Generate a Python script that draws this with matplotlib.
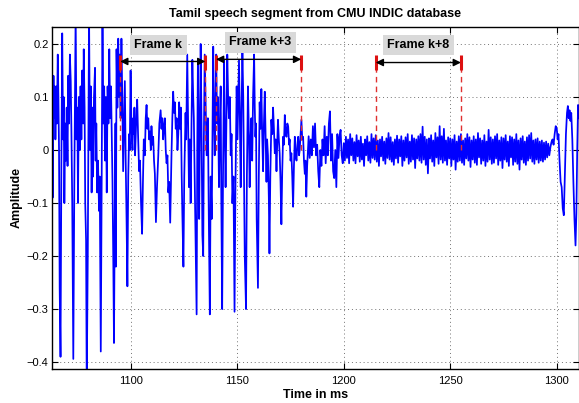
import numpy as np
import matplotlib
matplotlib.use("Agg")
import matplotlib.pyplot as plt

plt.rcParams['font.family'] = ['Liberation Sans', 'DejaVu Sans']

# ---- waveform, voiced part: (time in ms, amplitude) ----
voiced = [
    (1063.0, 0.07), (1063.3, -0.09), (1063.7, 0.14), (1064.0, 0.06), (1064.3, 0.12), (1064.6, 0.02),
    (1065.0, 0.12), (1065.3, 0.05), (1065.7, 0.18), (1066.0, 0.10), (1066.3, 0.0), (1066.6, -0.26),
    (1067.0, -0.39),
    (1067.4, -0.03), (1067.8, 0.22), (1068.2, 0.02), (1068.5, 0.10), (1068.8, -0.10), (1069.2, 0.05),
    (1069.5, -0.02), (1069.9, 0.08), (1070.3, -0.03), (1070.6, 0.14), (1071.0, 0.05), (1071.4, 0.18),
    (1071.8, 0.13), (1072.1, 0.04), (1072.5, -0.10), (1073.0, -0.394),
    (1073.5, -0.05), (1074.1, 0.26), (1074.5, 0.02), (1074.9, 0.08), (1075.2, -0.10), (1075.6, 0.10),
    (1076.0, 0.0), (1076.4, 0.12), (1076.8, 0.02), (1077.2, 0.15), (1077.6, 0.05), (1077.9, 0.19),
    (1078.3, 0.08), (1078.6, -0.10), (1079.0, -0.17), (1079.3, -0.45),
    (1079.8, -0.20), (1080.4, 0.26), (1080.8, 0.00), (1081.2, 0.12), (1081.6, -0.08), (1082.0, 0.08),
    (1082.3, -0.05), (1082.7, 0.10), (1083.2, 0.155), (1083.5, -0.02), (1083.8, 0.05), (1084.2, -0.08),
    (1084.6, -0.02), (1085.1, -0.115), (1085.4, -0.05), (1085.9, -0.38),
    (1086.3, -0.08), (1086.7, 0.26), (1087.1, 0.05), (1087.5, 0.12), (1087.9, -0.02), (1088.3, 0.10),
    (1088.7, -0.08), (1089.1, 0.12), (1089.5, 0.05), (1089.9, 0.19), (1090.3, 0.06), (1090.7, 0.12),
    (1091.1, 0.02), (1091.4, -0.06), (1091.8, -0.22), (1092.1, -0.364),
    (1092.5, -0.10), (1092.8, 0.05), (1093.0, -0.22), (1093.3, 0.19), (1093.7, 0.08), (1094.1, 0.21),
    (1094.5, 0.10), (1094.8, 0.18), (1095.2, 0.06), (1095.6, 0.21), (1096.0, 0.10), (1096.4, -0.04),
    (1096.8, 0.05), (1097.2, 0.13), (1097.6, -0.02), (1098.0, -0.13), (1098.4, -0.257),
    (1098.8, -0.05), (1099.2, 0.03), (1099.5, 0.0), (1099.9, 0.15), (1100.3, 0.04), (1100.8, 0.0),
    (1101.1, 0.06), (1101.4, 0.03), (1101.7, 0.08), (1102.0, -0.01), (1102.5, 0.05), (1103.0, 0.095),
    (1103.4, 0.03), (1103.9, -0.04), (1104.3, -0.02), (1104.8, -0.10), (1105.3, -0.158),
    (1105.7, -0.06), (1106.1, 0.02), (1106.6, -0.01), (1107.0, 0.06), (1107.4, 0.085), (1107.8, 0.04),
    (1108.2, 0.06), (1108.6, 0.02), (1109.0, 0.035), (1109.4, 0.0), (1109.7, 0.045), (1110.1, 0.01),
    (1110.5, 0.025), (1110.9, -0.02), (1111.3, -0.045), (1111.8, -0.136),
    (1112.3, -0.07), (1112.9, -0.01), (1113.4, 0.05), (1114.0, 0.075), (1114.4, 0.04), (1114.8, 0.06),
    (1115.2, 0.02), (1115.6, 0.045), (1116.0, 0.06), (1116.4, 0.0), (1116.8, -0.025), (1117.2, -0.01),
    (1117.6, -0.08), (1118.0, -0.06), (1118.5, -0.137),
    (1119.1, -0.01), (1119.5, 0.06), (1119.9, 0.11), (1120.3, 0.07), (1120.7, 0.09), (1121.1, 0.04),
    (1121.5, 0.06), (1121.9, 0.0), (1122.3, 0.03), (1122.7, 0.09), (1123.1, 0.04), (1123.5, 0.08),
    (1123.9, -0.05), (1124.2, -0.12), (1124.7, -0.22),
    (1125.1, -0.05), (1125.7, 0.07), (1126.0, 0.02), (1126.5, 0.18), (1126.9, 0.05), (1127.3, -0.07),
    (1127.7, 0.02), (1128.1, -0.10), (1128.5, 0.05), (1128.9, 0.17), (1129.3, 0.10), (1129.6, 0.06),
    (1130.0, -0.05), (1130.4, -0.16), (1130.9, -0.31),
    (1131.2, 0.0), (1131.5, 0.165), (1131.8, 0.05), (1132.1, -0.13), (1132.8, 0.20), (1133.2, 0.05),
    (1133.6, -0.16), (1134.0, -0.20), (1134.3, 0.02), (1134.7, 0.18), (1135.1, 0.10), (1135.6, -0.01),
    (1136.2, 0.06), (1136.6, -0.12), (1137.1, -0.31),
    (1137.5, -0.05), (1138.0, -0.13), (1138.7, 0.195), (1139.0, 0.08), (1139.4, -0.01), (1139.7, 0.08),
    (1140.1, 0.18), (1140.5, 0.05), (1140.9, 0.10), (1141.4, -0.07), (1141.8, 0.05), (1142.2, 0.12),
    (1142.5, -0.10), (1142.9, -0.30),
    (1143.3, -0.05), (1143.8, 0.17), (1144.1, 0.05), (1144.5, -0.07), (1144.9, 0.05), (1145.3, 0.18),
    (1145.7, 0.10), (1146.1, 0.06), (1146.5, 0.10), (1146.9, -0.01), (1147.3, 0.03), (1147.7, -0.10),
    (1148.2, -0.05), (1148.7, -0.305),
    (1149.1, -0.08), (1149.7, 0.12), (1150.1, 0.02), (1150.5, 0.10), (1150.8, 0.17), (1151.2, 0.06),
    (1151.6, -0.07), (1152.0, 0.08), (1152.4, 0.185), (1152.8, 0.10), (1153.1, -0.02), (1153.5, -0.20),
    (1154.1, -0.30),
    (1154.5, -0.05), (1155.0, 0.12), (1155.4, 0.04), (1155.8, -0.07), (1156.2, 0.02), (1156.6, 0.06),
    (1157.0, -0.02), (1157.4, 0.10), (1157.9, 0.18), (1158.2, 0.08), (1158.5, 0.025), (1158.8, 0.05),
    (1159.1, -0.13), (1159.7, -0.26),
    (1160.1, -0.05), (1160.5, 0.09), (1160.9, 0.04), (1161.3, 0.115), (1161.7, 0.03), (1162.1, -0.04),
    (1162.5, 0.05), (1162.9, 0.11), (1163.3, 0.02), (1163.7, -0.06), (1164.0, 0.02), (1164.4, -0.01),
    (1164.8, -0.09), (1165.1, -0.195),
    (1165.5, -0.05), (1166.0, 0.057), (1166.4, 0.03), (1166.8, 0.08), (1167.2, 0.04), (1167.6, -0.006),
    (1168.0, 0.02), (1168.4, -0.04), (1168.8, 0.02), (1169.1, 0.057), (1169.5, 0.02), (1169.9, -0.006),
    (1170.3, -0.06), (1170.7, -0.14),
    (1171.1, -0.04), (1171.5, 0.025), (1171.9, 0.01), (1172.3, 0.066), (1172.7, 0.03), (1173.1, 0.025),
    (1173.5, 0.05), (1173.9, 0.044), (1174.3, 0.01), (1174.6, 0.02), (1175.0, -0.02), (1175.4, -0.006),
    (1175.8, -0.05), (1176.2, -0.107),
    (1176.6, -0.03), (1177.0, 0.025), (1177.4, -0.01), (1177.8, -0.02), (1178.2, 0.01), (1178.6, 0.025),
    (1179.0, -0.01), (1179.3, 0.0), (1179.7, 0.03), (1180.1, 0.057), (1180.5, 0.02), (1180.9, 0.025),
    (1181.3, -0.02), (1181.7, -0.045), (1182.0, -0.02), (1182.4, -0.088), (1182.8, -0.03),
]

# ---- unvoiced (noise-like) part, one value every 0.5 ms from 1183.5 ms ----
noise_start_ms = 1183.5
noise_step_ms = 0.5
noise_amp = [
    0.026, -0.015, 0.020, -0.010, 0.045, 0.005, 0.050, -0.010, 0.010, -0.040,
    -0.070, 0.000, -0.030, 0.020, -0.010, 0.045, -0.025, 0.025, -0.010, 0.050,
    0.073, -0.020, 0.030, -0.040, -0.053, 0.000, -0.070, 0.030, -0.015, 0.025,
    0.038, -0.010, -0.025, 0.013,
    -0.020, 0.025, -0.015, 0.020, -0.025, 0.030, -0.010, 0.022, -0.020, 0.015,
    -0.025, 0.028, -0.012, 0.018, -0.022, 0.025, -0.018, 0.012, -0.030, 0.020,
    -0.010, 0.026, -0.020, 0.015, -0.024, 0.030, -0.015, 0.022, -0.018, 0.028,
    -0.022, 0.018, -0.030, 0.020, -0.012, 0.025, -0.020, 0.016, -0.026, 0.022,
    -0.015, 0.032, -0.018, 0.024, -0.022, 0.015, -0.028, 0.020, -0.016, 0.027,
    -0.024, 0.020, -0.012, 0.026, -0.030, 0.018, -0.020, 0.024, -0.014, 0.030,
    -0.026, 0.016, -0.022, 0.028, -0.018, 0.022, -0.034, 0.020, -0.016, 0.026,
    -0.020, 0.030, -0.024, 0.044, -0.018, 0.025, -0.028, 0.020, -0.044, 0.022,
    -0.016, 0.028, -0.022, 0.018, -0.030, 0.032, -0.014, 0.024, -0.026, 0.045,
    -0.018, 0.026, -0.024, 0.040, -0.020, 0.018, -0.028, 0.024, -0.016, 0.022,
    -0.030, 0.020, -0.018, 0.028, -0.037, 0.016, -0.022, 0.026, -0.020, 0.030,
    -0.024, 0.018, -0.028, 0.022, -0.016, 0.030, -0.020, 0.024, -0.032, 0.018,
    -0.018, 0.026, -0.024, 0.020, -0.028, 0.032, -0.014, 0.022, -0.026, 0.018,
    -0.020, 0.028, -0.030, 0.016, -0.022, 0.038, -0.018, 0.024, -0.026, 0.020,
    -0.024, 0.026, -0.016, 0.030, -0.028, 0.018, -0.020, 0.024, -0.034, 0.022,
    -0.018, 0.028, -0.022, 0.016, -0.030, 0.026, -0.014, 0.024, -0.028, 0.020,
    -0.022, 0.030, -0.026, 0.018, -0.037, 0.022, -0.018, 0.026, -0.024, 0.016,
    -0.028, 0.024, -0.020, 0.028, -0.016, 0.032, -0.022, 0.018, -0.026, 0.020,
    -0.018, 0.022, -0.024, 0.016, -0.020, 0.018, -0.022, 0.014, -0.018, 0.016,
    -0.014, 0.012, -0.010,
]

# ---- onset of next voiced segment ----
onset = [
    (1297.0, 0.005), (1297.5, 0.015), (1298.0, 0.02), (1298.5, 0.01), (1299.0, 0.03), (1299.5, 0.045),
    (1300.0, 0.04), (1300.4, 0.02), (1300.8, 0.03), (1301.3, -0.02), (1301.8, -0.06), (1302.3, -0.07),
    (1302.8, -0.11), (1303.3, -0.123), (1303.8, -0.05), (1304.3, 0.03), (1304.8, 0.07), (1305.2, 0.083),
    (1305.6, 0.06), (1306.0, 0.075), (1306.4, 0.055), (1306.8, 0.07), (1307.3, 0.02), (1307.8, -0.06),
    (1308.3, -0.13), (1308.8, -0.18), (1309.2, -0.12), (1309.6, 0.0), (1310.0, 0.085), (1310.3, 0.06),
]

# ---- frame annotations ----
frame_labels = ['Frame k', 'Frame k+3', 'Frame k+8']
frame_start_ms = [1095, 1140, 1215]
frame_len_ms = 40
arrow_y = [0.167, 0.171, 0.165]
label_x = [1113.0, 1160.8, 1235.0]
label_y = [0.198, 0.203, 0.198]
marker_top = 0.179
marker_solid_bottom = 0.150

title = 'Tamil speech segment from CMU INDIC database'
xlabel = 'Time in ms'
ylabel = 'Amplitude'
xticks = [1100, 1150, 1200, 1250, 1300]
yticks = [-0.4, -0.3, -0.2, -0.1, 0, 0.1, 0.2]

# ---- assemble ----
vt, va = zip(*voiced)
ot, oa = zip(*onset)
nt = noise_start_ms + noise_step_ms * np.arange(len(noise_amp))
t = np.concatenate([vt, nt, ot])
a = np.concatenate([va, noise_amp, oa])

fig = plt.figure(figsize=(5.79, 4.03), dpi=100)
ax = fig.add_axes([52 / 579, 34 / 403, 526.5 / 579, 342 / 403])

ax.plot(t, a, color='#0000ff', lw=1.25, zorder=2)

for s, lab, ay, lx, ly in zip(frame_start_ms, frame_labels, arrow_y, label_x, label_y):
    e = s + frame_len_ms
    for xv in (s, e):
        ax.plot([xv, xv], [0, marker_top], color='#e03030', lw=1.0,
                linestyle=(0, (4, 3)), zorder=3)
        ax.plot([xv, xv], [marker_solid_bottom, marker_top], color='#dd1111',
                lw=2.2, solid_capstyle='butt', zorder=3)
    ax.annotate('', xy=(e, ay), xytext=(s, ay),
                arrowprops=dict(arrowstyle='<|-|>', color='black', lw=1.0,
                                mutation_scale=11, shrinkA=0, shrinkB=0),
                zorder=4)
    ax.text(lx, ly, lab, ha='center', va='center',
            fontsize=9, fontweight='bold', zorder=5,
            bbox=dict(boxstyle='square,pad=0.35', fc='#d9d9d9', ec='none'))

ax.set_xlim(1063, 1310.2)
ax.set_ylim(-0.413, 0.232)
ax.set_xticks(xticks)
ax.set_yticks(yticks)
ax.set_xticklabels([str(v) for v in xticks])
ax.set_yticklabels(['\u22120.4', '\u22120.3', '\u22120.2', '\u22120.1', '0', '0.1', '0.2'])
ax.tick_params(direction='in', top=True, right=True, length=4, width=0.8,
               labelsize=8)
ax.tick_params(axis='x', pad=5)
ax.tick_params(axis='y', pad=2.5)
ax.grid(True, color='0.45', linestyle=(0, (1, 3)), lw=0.7)
ax.set_axisbelow(True)
for sp in ax.spines.values():
    sp.set_linewidth(1.0)

ax.set_title(title, fontsize=9, fontweight='bold', pad=7)
ax.set_xlabel(xlabel, fontsize=9, fontweight='bold', labelpad=2)
ax.set_ylabel(ylabel, fontsize=9, fontweight='bold', labelpad=3)

fig.savefig('out.png', dpi=100)
